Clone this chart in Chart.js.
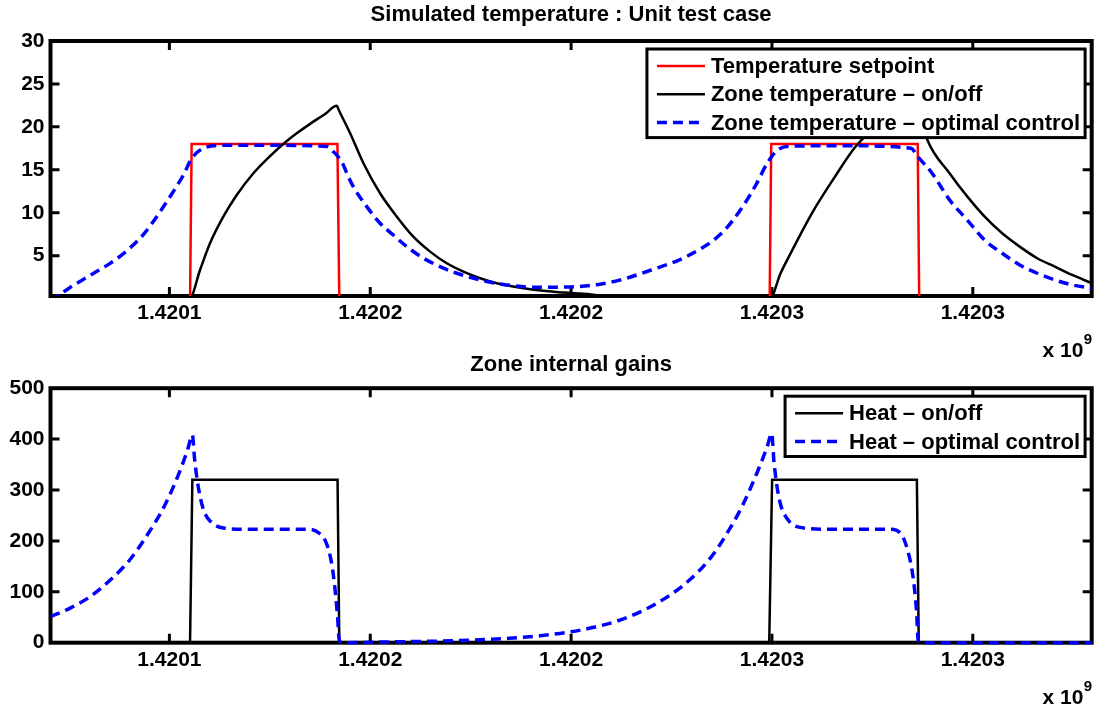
<!DOCTYPE html>
<html>
<head>
<meta charset="utf-8">
<title>Simulated temperature : Unit test case</title>
<script src="https://cdn.jsdelivr.net/npm/chart.js@4.4.1/dist/chart.umd.min.js"></script>
<style>
  body { margin: 0; background: #fff; }
  #wrap { position: relative; width: 1096px; height: 711px; }
  canvas { position: absolute; left: 0; }
  #tempChart { top: 0; }
  #gainChart { top: 348px; }
</style>
</head>
<body>
<div id="wrap">
  <canvas id="tempChart" width="1096" height="362"></canvas>
  <canvas id="gainChart" width="1096" height="363"></canvas>
</div>
<script>
// time axis: hours since T0 (unix seconds), labels shown as x 10^9
const T0 = 1420070400;
const spanHours = 72;
const xTickSeconds = [1420100000, 1420150000, 1420200000, 1420250000, 1420300000];
const xTickLabels = ['1.4201', '1.4202', '1.4202', '1.4203', '1.4203'];
const xExponent = ['x 10', '9'];

const tempTitle = 'Simulated temperature : Unit test case';
const gainTitle = 'Zone internal gains';
const tempTicks = [5, 10, 15, 20, 25, 30];
const gainTicks = [0, 100, 200, 300, 400, 500];

// Temperature setpoint
const setpointHours = [0, 9.65, 9.76, 19.84, 19.97, 49.73, 49.84, 59.97, 60.07, 72];
const setpointTemp  = [0, 0, 18, 18, 0, 0, 18, 18, 0, 0];

// Zone temperature - on/off
const onoffTempHours = [0, 9.62, 10.34, 11.03, 11.95, 12.88, 14.03, 15.18, 16.34, 17.03,
  17.95, 18.99, 19.80, 19.95, 20.72, 21.64, 22.79, 23.95, 25.09,
  26.25, 27.40, 28.55, 29.71, 30.86, 33.17, 35.47, 36.83, 38.50, 44.00,
  49.74, 50.50, 51.25, 52.71, 54.17, 55.62, 56.68, 58.07, 59.93, 60.10,
  60.64, 62.17, 63.39, 64.60, 65.81, 67.02, 68.23, 69.45, 70.65, 72.00];
const onoffTemp = [0, 0, 3.33, 6.44, 9.54, 12.07, 14.6, 16.6, 18.35, 19.25,
  20.35, 21.5, 22.45, 21.9, 19.25, 15.76, 12.27, 9.54, 7.21,
  5.47, 4.11, 3.14, 2.37, 1.79, 1.09, 0.70, 0.55, 0.30, 0.10,
  0.0, 3.0, 5.5, 10.1, 14.0, 17.6, 19.4, 21.0, 22.4, 21.6,
  18.47, 14.6, 11.9, 9.54, 7.6, 6.05, 4.7, 3.72, 2.75, 1.79];

// Zone temperature - optimal control
const optTempHours = [0, 0.52, 1.35, 2.04, 2.94, 4.12, 5.27, 6.42, 7.57, 8.49, 9.19,
  9.77, 10.57, 11.95, 15.50, 19.10, 19.56, 19.80, 20.25, 20.49, 20.94,
  21.87, 22.79, 23.71, 24.64, 25.79, 26.94, 28.10, 29.71, 31.55, 33.63,
  35.93, 37.78, 39.36, 41.54, 43.96, 46.40, 47.86, 48.83, 49.56, 50.28,
  51.25, 55.00, 59.50, 59.99, 60.96, 62.17, 63.39, 64.60, 65.81, 67.02,
  68.23, 69.45, 70.65, 72.00];
const optTemp = [-0.3, 0.3, 1.3, 2.0, 2.9, 4.1, 5.55, 7.45, 10.1, 12.45, 14.4,
  16.34, 17.5, 17.85, 17.85, 17.7, 17.1, 16.7, 15.56, 14.6, 13.03,
  10.71, 8.77, 7.4, 6.05, 4.7, 3.72, 2.95, 2.17, 1.59, 1.32,
  1.36, 1.62, 2.15, 3.33, 4.88, 7.6, 10.7, 13.4, 15.76, 17.3,
  17.75, 17.8, 17.5, 16.5, 14.6, 11.5, 9.16, 6.8, 5.28, 3.92,
  2.95, 2.17, 1.59, 1.2];

// Heat - on/off
const onoffHeatHours = [0, 9.65, 9.81, 19.85, 19.97, 49.70, 49.90, 59.91, 60.04, 72];
const onoffHeat      = [0, 0, 320, 320, 0, 0, 320, 320, 0, 0];

// Heat - optimal control
const optHeatHours = [0, 1.36, 2.82, 4.28, 5.49, 6.70, 7.92, 8.89, 9.49, 9.81,
  9.97, 10.22, 10.58, 11.07, 12.04, 13.49, 17.87, 18.59, 19.08, 19.44,
  19.68, 19.85, 19.97, 20.16, 23.2, 28.05, 31.70, 34.30, 36.69, 39.13,
  40.82, 42.76, 44.22, 45.68, 46.89, 47.86, 48.83, 49.56, 49.87, 50.04,
  50.41, 51.01, 51.74, 53.68, 58.04, 58.78, 59.27, 59.64, 59.88, 60.00,
  60.12, 72];
const optHeat = [51, 68, 92, 127, 163, 212, 271, 333, 380, 408,
  359, 306, 261, 238, 225, 223, 223, 215, 195, 156,
  103.5, 51, 5, 0, 1.5, 4, 8.6, 15, 25, 42,
  61, 92, 124, 168, 220, 270, 332, 385, 411, 352,
  280, 241, 227, 223, 223, 215, 182, 130, 64, 5,
  0, 0];

const FONT = '"Liberation Sans", Arial, Helvetica, sans-serif';
const xTickHours = xTickSeconds.map(s => (s - T0) / 3600);

function pts(hours, values) {
  return hours.map((h, i) => ({ x: h, y: values[i] }));
}

// matlab-like box: inward ticks, frame, legend inside axes, title, exponent
const framePlugin = {
  id: 'frame',
  beforeDatasetsDraw(chart, args, o) {
    const { ctx, chartArea: a } = chart;
    const xs = chart.scales.x, ys = chart.scales.y;
    ctx.save();
    ctx.strokeStyle = '#000';
    ctx.lineWidth = 3;
    ctx.beginPath();
    xs.ticks.forEach(t => {
      const px = xs.getPixelForValue(t.value);
      ctx.moveTo(px, a.bottom); ctx.lineTo(px, a.bottom - 9);
      ctx.moveTo(px, a.top); ctx.lineTo(px, a.top + 9);
    });
    ys.ticks.forEach(t => {
      const py = ys.getPixelForValue(t.value);
      if (py < a.top + 2 || py > a.bottom - 2) return;
      ctx.moveTo(a.left, py); ctx.lineTo(a.left + 9, py);
      ctx.moveTo(a.right, py); ctx.lineTo(a.right - 9, py);
    });
    ctx.stroke();
    ctx.lineWidth = 4;
    ctx.strokeRect(a.left, a.top, a.right - a.left, a.bottom - a.top);
    ctx.restore();
  },
  afterDatasetsDraw(chart, args, o) {
    const { ctx, chartArea: a } = chart;
    const sets = chart.data.datasets;
    ctx.save();
    ctx.font = 'bold 22px ' + FONT;
    const textW = Math.max(...sets.map(d => ctx.measureText(d.label).width));
    const w = 10 + 48 + 6 + textW + 5;
    const h = 17 + (sets.length - 1) * 28.3 + 15;
    const left = a.right - 6.6 - w, top = a.top + 8;
    ctx.fillStyle = '#fff';
    ctx.fillRect(left, top, w, h);
    ctx.lineWidth = 3;
    ctx.strokeStyle = '#000';
    ctx.strokeRect(left, top, w, h);
    sets.forEach((d, i) => {
      const cy = top + 17 + i * 28.3;
      ctx.beginPath();
      ctx.setLineDash(d.borderDash || []);
      ctx.strokeStyle = d.borderColor;
      ctx.lineWidth = d.borderWidth;
      ctx.moveTo(left + 10, cy); ctx.lineTo(left + 58, cy);
      ctx.stroke();
      ctx.setLineDash([]);
      ctx.fillStyle = '#000';
      ctx.textAlign = 'left';
      ctx.textBaseline = 'middle';
      ctx.fillText(d.label, left + 64, cy + 1);
    });
    ctx.restore();
  },
  afterDraw(chart, args, o) {
    const { ctx, chartArea: a } = chart;
    ctx.save();
    ctx.fillStyle = '#000';
    ctx.textBaseline = 'alphabetic';
    ctx.textAlign = 'center';
    ctx.font = 'bold 22px ' + FONT;
    ctx.fillText(o.title, (a.left + a.right) / 2, a.top - o.titleGap);
    // x 10^9
    ctx.textAlign = 'right';
    ctx.font = 'bold 15px ' + FONT;
    const w9 = ctx.measureText(xExponent[1]).width;
    ctx.fillText(xExponent[1], a.right + 0.5, a.bottom + 48);
    ctx.font = 'bold 21px ' + FONT;
    ctx.fillText(xExponent[0], a.right - w9, a.bottom + 61);
    ctx.restore();
  }
};

function makeChart(id, datasets, c) {
  const tickFont = { family: FONT, size: 21, weight: 'bold' };
  return new Chart(document.getElementById(id), {
    type: 'line',
    data: { datasets },
    options: {
      responsive: false,
      animation: false,
      events: [],
      layout: { padding: { top: c.padTop, right: 4.3, left: 0, bottom: 0 } },
      elements: { point: { radius: 0 }, line: { tension: 0, fill: false } },
      scales: {
        x: {
          type: 'linear', min: 0, max: spanHours,
          grid: { display: false, drawTicks: false },
          border: { display: false },
          ticks: {
            font: tickFont, color: '#000', padding: 5, maxRotation: 0, autoSkip: false,
            callback: (v, i) => xTickLabels[i]
          },
          afterBuildTicks: s => { s.ticks = xTickHours.map(v => ({ value: v })); },
          afterFit: s => { s.height = c.xHeight; }
        },
        y: {
          min: c.yMin, max: c.yMax,
          grid: { display: false, drawTicks: false },
          border: { display: false },
          ticks: { font: tickFont, color: '#000', padding: 6 },
          afterBuildTicks: s => { s.ticks = c.yTicks.map(v => ({ value: v })); },
          afterFit: s => { s.width = 50.5; }
        }
      },
      plugins: {
        legend: { display: false },
        tooltip: { enabled: false },
        title: { display: false },
        frame: { title: c.title, titleGap: c.titleGap }
      }
    },
    plugins: [framePlugin]
  });
}

makeChart('tempChart', [
  { label: 'Temperature setpoint', data: pts(setpointHours, setpointTemp),
    borderColor: '#ff0000', borderWidth: 2.5, order: 2, clip: 0 },
  { label: 'Zone temperature \u2013 on/off', data: pts(onoffTempHours, onoffTemp),
    borderColor: '#000000', borderWidth: 2.5, cubicInterpolationMode: 'monotone', order: 1, clip: 0 },
  { label: 'Zone temperature \u2013 optimal control', data: pts(optTempHours, optTemp),
    borderColor: '#0000ff', borderWidth: 3.5, borderDash: [10, 6], cubicInterpolationMode: 'monotone', order: 0, clip: 0 }
], { padTop: 41, xHeight: 66, yMin: 0.3, yMax: 30, yTicks: tempTicks, title: tempTitle, titleGap: 20.3 });

makeChart('gainChart', [
  { label: 'Heat \u2013 on/off', data: pts(onoffHeatHours, onoffHeat),
    borderColor: '#000000', borderWidth: 2.5, order: 1, clip: { left: 0, top: 0, right: 0, bottom: 3 } },
  { label: 'Heat \u2013 optimal control', data: pts(optHeatHours, optHeat),
    borderColor: '#0000ff', borderWidth: 3.5, borderDash: [10, 6], cubicInterpolationMode: 'monotone', order: 0,
    clip: { left: 0, top: 0, right: 0, bottom: 3 } }
], { padTop: 40.2, xHeight: 68.3, yMin: 0, yMax: 500, yTicks: gainTicks, title: gainTitle, titleGap: 17.5 });
</script>
</body>
</html>
